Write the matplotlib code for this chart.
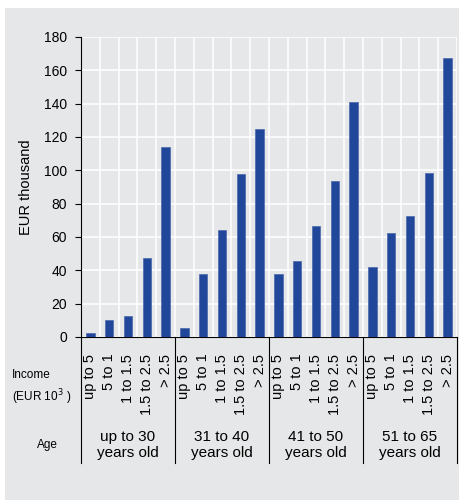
import matplotlib
matplotlib.use("Agg")
import matplotlib.pyplot as plt
import matplotlib.transforms as mtransforms
from matplotlib.patches import Rectangle

plt.rcParams['font.family'] = ['Liberation Sans', 'DejaVu Sans']

age_groups = ["up to 30\nyears old", "31 to 40\nyears old", "41 to 50\nyears old", "51 to 65\nyears old"]
income_labels = ["up to 5", "5 to 1", "1 to 1.5", "1.5 to 2.5", "> 2.5"]
values = [
    [2.5, 10, 12.5, 47.5, 114],
    [5.6, 37.6, 64, 97.6, 125],
    [38, 45.4, 66.4, 93.4, 141.2],
    [41.8, 62.6, 72.4, 98.4, 167.2],
]

bg = '#e6e7e8'
bar_color = '#21479b'

fig = plt.figure(figsize=(4.59, 5.0), dpi=100, facecolor='white')
fig.patches.append(Rectangle((5/459, 0), 1 - 5/459, (500-8)/500, transform=fig.transFigure,
                             facecolor=bg, edgecolor='none', zorder=-10))

ax = fig.add_axes([81/459, 1 - 337/500, 376/459, 300/500])
ax.set_facecolor(bg)

n_inc = len(income_labels)
xs, ys, labels = [], [], []
for g, vals in enumerate(values):
    for i, v in enumerate(vals):
        xs.append(g * n_inc + i)
        ys.append(v)
        labels.append(income_labels[i])

ax.bar(xs, ys, width=0.45, color=bar_color, edgecolor='#4a67ad', linewidth=0.5, zorder=3)

ax.set_xlim(-0.5, len(xs) - 0.5)
ax.set_ylim(0, 180)
ax.set_yticks(range(0, 181, 20))
ax.set_xticks(xs)
ax.set_xticklabels(labels, rotation=90, ha='center', va='top', fontsize=10.5)
ax.tick_params(axis='x', length=0, pad=12)
ax.tick_params(axis='y', length=4, width=0.8, pad=6, labelsize=10)

# grid
ax.set_axisbelow(True)
ax.yaxis.grid(True, color='white', linewidth=1.1)
for b in range(len(xs) + 1):
    ax.axvline(b - 0.5, color='white', linewidth=1.1, zorder=1)

for s in ['top', 'right']:
    ax.spines[s].set_visible(False)
ax.spines['left'].set_linewidth(0.8)
ax.spines['bottom'].set_linewidth(0.8)

ax.set_ylabel("EUR thousand", fontsize=10.5, labelpad=8)

# group separators and age labels
trans = mtransforms.blended_transform_factory(ax.transData, ax.transAxes)
for g in range(len(age_groups) + 1):
    xb = g * n_inc - 0.5
    ax.plot([xb, xb], [0, -0.42], color='black', linewidth=0.8, transform=trans, clip_on=False)
for g, name in enumerate(age_groups):
    ax.text(g * n_inc + (n_inc - 1) / 2, -0.36, name, transform=trans, ha='center', va='center',
            fontsize=11, linespacing=1.1)

fig.text(12/459, 1 - 388/500, "Income\n(EUR 10$^3$ )", ha='left', va='center', fontsize=8.5,
         linespacing=1.5)
fig.text(47/459, 1 - 445/500, "Age", ha='center', va='center', fontsize=8.5)

fig.savefig("out.png", dpi=100, facecolor=fig.get_facecolor())
